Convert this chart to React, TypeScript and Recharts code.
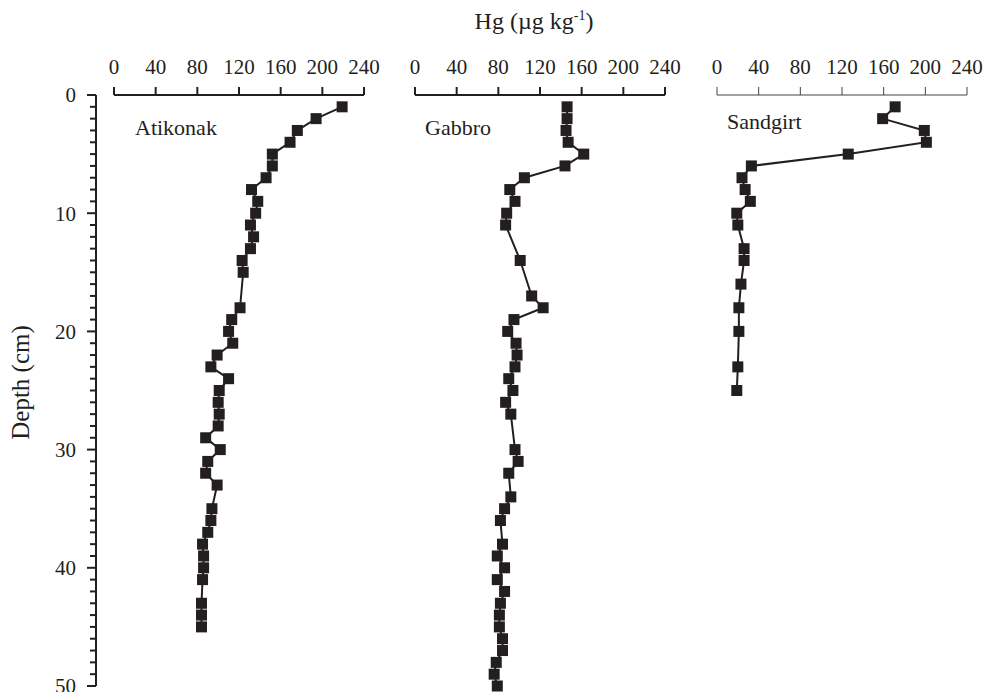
import React from 'react';
import { ScatterChart, Scatter, XAxis, YAxis } from 'recharts';

// depth (cm) and Hg (µg kg-1) per core
const atikonakDepth = [1, 2, 3, 4, 5, 6, 7, 8, 9, 10, 11, 12, 13, 14, 15, 18, 19, 20, 21, 22, 23, 24, 25, 26, 27, 28, 29, 30, 31, 32, 33, 35, 36, 37, 38, 39, 40, 41, 43, 44, 45];
const atikonakHg = [219, 194, 176, 169, 152, 152, 146, 132, 138, 136, 131, 134, 131, 123, 124, 121, 113, 110, 114, 99, 93, 110, 101, 100, 101, 100, 88, 102, 90, 88, 99, 94, 93, 90, 85, 86, 86, 85, 84, 84, 84];

const gabbroDepth = [1, 2, 3, 4, 5, 6, 7, 8, 9, 10, 11, 14, 17, 18, 19, 20, 21, 22, 23, 24, 25, 26, 27, 30, 31, 32, 34, 35, 36, 38, 39, 40, 41, 42, 43, 44, 45, 46, 47, 48, 49, 50];
const gabbroHg = [146, 146, 145, 147, 162, 144, 105, 91, 96, 88, 87, 101, 112, 123, 95, 89, 97, 98, 96, 90, 94, 87, 92, 96, 99, 90, 92, 86, 82, 84, 79, 86, 79, 86, 82, 81, 81, 84, 84, 78, 76, 79];

const sandgirtDepth = [1, 2, 3, 4, 5, 6, 7, 8, 9, 10, 11, 13, 14, 16, 18, 20, 23, 25];
const sandgirtHg = [171, 159, 199, 201, 126, 33, 24, 27, 32, 19, 20, 26, 26, 23, 21, 21, 20, 19];

const hgTicks = [0, 40, 80, 120, 160, 200, 240];
const depthTicks = Array.from({ length: 51 }, (_, i) => i);

const INK = '#231f20';
const FONT = '"Liberation Serif", "Times New Roman", serif';
const TOP = 95;
const BOTTOM = 6;
const H = 692;
const Y_AXIS_X = 96;

const toPoints = (depth: number[], hg: number[]) => depth.map((d, i) => ({ depth: d, hg: hg[i] }));

const panels = [
  { name: 'Atikonak', data: toPoints(atikonakDepth, atikonakHg), left: 114, axisColor: INK, axisWidth: 2, labelX: 135, labelY: 115 },
  { name: 'Gabbro', data: toPoints(gabbroDepth, gabbroHg), left: 415, axisColor: INK, axisWidth: 2, labelX: 425, labelY: 115 },
  { name: 'Sandgirt', data: toPoints(sandgirtDepth, sandgirtHg), left: 717, axisColor: '#444', axisWidth: 1, labelX: 727, labelY: 109 },
];

const renderDepthTick = (props: any) => {
  const { y, payload } = props;
  const major = payload.value % 10 === 0;
  return (
    <g key={`dt-${payload.value}`}>
      <line x1={Y_AXIS_X - (major ? 9 : 6)} x2={Y_AXIS_X} y1={y} y2={y} stroke={INK} strokeWidth={2} />
      {major && (
        <text x={Y_AXIS_X - 20} y={y} dy="0.35em" textAnchor="end" fill={INK} fontSize={21} fontFamily={FONT}>
          {payload.value}
        </text>
      )}
    </g>
  );
};

const renderSquare = (props: any) => (
  <rect x={props.cx - 5.5} y={props.cy - 5.5} width={11} height={11} fill={INK} />
);

function Panel({ p }: { p: (typeof panels)[number] }) {
  const pad = 22;
  return (
    <div style={{ position: 'absolute', left: p.left - pad, top: 0 }}>
      <ScatterChart width={250 + pad * 2} height={H} margin={{ top: TOP - 40, bottom: BOTTOM, left: pad, right: pad }}>
        <XAxis
          type="number"
          dataKey="hg"
          orientation="top"
          height={40}
          domain={[0, 240]}
          ticks={hgTicks}
          interval={0}
          tickSize={8}
          tickMargin={13}
          axisLine={{ stroke: p.axisColor, strokeWidth: p.axisWidth }}
          tickLine={{ stroke: p.axisColor, strokeWidth: p.axisWidth }}
          tick={{ fill: INK, fontSize: 21, fontFamily: FONT }}
        />
        <YAxis type="number" dataKey="depth" domain={[0, 50]} reversed hide width={0} />
        <Scatter
          data={p.data}
          fill={INK}
          shape={renderSquare}
          line={{ stroke: INK, strokeWidth: 2 }}
          isAnimationActive={false}
        />
      </ScatterChart>
      <div
        style={{
          position: 'absolute',
          left: p.labelX - p.left + pad,
          top: p.labelY,
          fontFamily: FONT,
          fontSize: 22,
          color: INK,
          whiteSpace: 'nowrap',
        }}
      >
        {p.name}
      </div>
    </div>
  );
}

export default function App() {
  return (
    <div style={{ position: 'absolute', left: 0, top: 0, width: 984, height: H, background: '#fff', overflow: 'hidden' }}>
      <div style={{ position: 'absolute', left: 0, top: 0 }}>
        <ScatterChart width={110} height={H} margin={{ top: TOP, bottom: BOTTOM, left: 0, right: 14 }}>
          <XAxis type="number" dataKey="hg" domain={[0, 240]} allowDataOverflow hide />
          <YAxis
            type="number"
            dataKey="depth"
            domain={[0, 50]}
            allowDataOverflow
            reversed
            width={Y_AXIS_X}
            ticks={depthTicks}
            interval={0}
            tickLine={false}
            tick={renderDepthTick}
            axisLine={{ stroke: INK, strokeWidth: 2 }}
            label={{
              value: 'Depth (cm)',
              angle: -90,
              position: 'insideLeft',
              offset: 20,
              dy: -8,
              style: { textAnchor: 'middle', fill: INK, fontSize: 25, fontFamily: FONT },
            }}
          />
        </ScatterChart>
      </div>
      {panels.map((p) => (
        <Panel key={p.name} p={p} />
      ))}
      <div
        style={{
          position: 'absolute',
          left: 534,
          top: 8,
          transform: 'translateX(-50%)',
          fontFamily: FONT,
          fontSize: 24,
          color: INK,
          whiteSpace: 'nowrap',
        }}
      >
        Hg (µg kg<sup style={{ fontSize: 14 }}>-1</sup>)
      </div>
    </div>
  );
}
